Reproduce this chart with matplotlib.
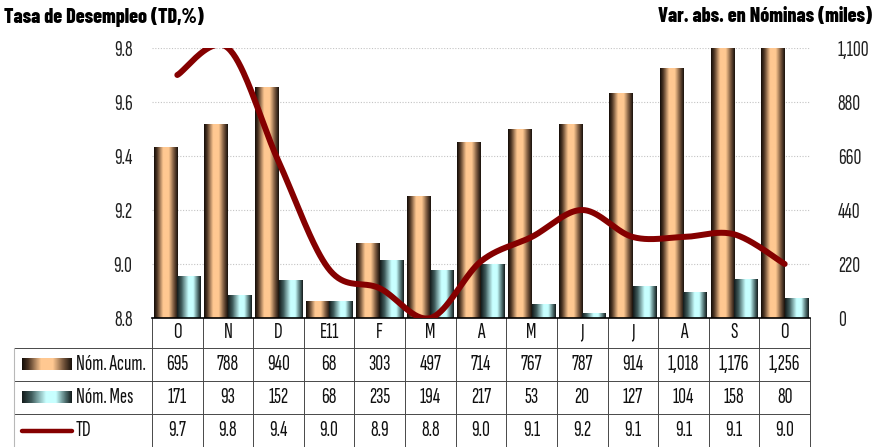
import numpy as np
import matplotlib
matplotlib.use('Agg')
import matplotlib.pyplot as plt
from matplotlib.colors import LinearSegmentedColormap

plt.rcParams['font.family'] = ['Sofia Sans Extra Condensed', 'DejaVu Sans']
title_font = ['Barlow Condensed', 'DejaVu Sans']

months = ['O', 'N', 'D', 'E11', 'F', 'M', 'A', 'M', 'J', 'J', 'A', 'S', 'O']
nom_acum = [695, 788, 940, 68, 303, 497, 714, 767, 787, 914, 1018, 1176, 1256]
nom_mes = [171, 93, 152, 68, 235, 194, 217, 53, 20, 127, 104, 158, 80]
td = [9.70, 9.80, 9.38, 8.98, 8.91, 8.80, 9.01, 9.10, 9.20, 9.10, 9.10, 9.11, 9.00]

left_ticks = [8.8, 9.0, 9.2, 9.4, 9.6, 9.8]
right_ticks = [0, 220, 440, 660, 880, 1100]

copper = LinearSegmentedColormap.from_list('copper_bar', [
    (0.0, '#140d08'), (0.12, '#4a3322'), (0.38, '#ffc891'), (0.62, '#ffc891'),
    (0.85, '#6e5038'), (1.0, '#1a120c')])
cyan = LinearSegmentedColormap.from_list('cyan_bar', [
    (0.0, '#141c1c'), (0.18, '#3e5a5a'), (0.48, '#c8ffff'), (0.68, '#c8ffff'),
    (0.88, '#4e6e6e'), (1.0, '#141c1c')])
line_color = '#850000'
grad = np.linspace(0, 1, 64)[np.newaxis, :]
fs = 15.5


def smooth(xs, ys, n=40):
    # bezier smoothing like the spreadsheet "smoothed line"
    xs, ys = np.asarray(xs, float), np.asarray(ys, float)
    px = np.concatenate([[xs[0]], xs, [xs[-1]]])
    py = np.concatenate([[ys[0]], ys, [ys[-1]]])
    out_x, out_y = [], []
    t = np.linspace(0, 1, n)
    for i in range(1, len(px) - 2):
        p0 = np.array([px[i], py[i]])
        p3 = np.array([px[i + 1], py[i + 1]])
        p1 = p0 + (np.array([px[i + 1], py[i + 1]]) - np.array([px[i - 1], py[i - 1]])) / 6
        p2 = p3 - (np.array([px[i + 2], py[i + 2]]) - np.array([px[i], py[i]])) / 6
        b = ((1 - t) ** 3)[:, None] * p0 + (3 * (1 - t) ** 2 * t)[:, None] * p1 \
            + (3 * (1 - t) * t ** 2)[:, None] * p2 + (t ** 3)[:, None] * p3
        out_x.extend(b[:, 0])
        out_y.extend(b[:, 1])
    return np.array(out_x), np.array(out_y)


fig = plt.figure(figsize=(8.73, 4.47), dpi=100)
ax = fig.add_axes([152 / 873, 129 / 447, 658 / 873, 270 / 447])
ax2 = ax.twinx()
ax.set_zorder(2)
ax2.set_zorder(1)
ax.patch.set_visible(False)

n = len(months)
x = np.arange(n)
w = 0.465

# bars (right axis)
for i in range(n):
    ax2.imshow(grad, cmap=copper, extent=(x[i] - w, x[i], 0, nom_acum[i]),
               aspect='auto', interpolation='bilinear', zorder=2)
    ax2.imshow(grad, cmap=cyan, extent=(x[i], x[i] + w, 0, nom_mes[i]),
               aspect='auto', interpolation='bilinear', zorder=2)
ax2.set_ylim(0, 1100)
ax2.set_xlim(-0.5, n - 0.5)
ax2.set_yticks(right_ticks)
ax2.set_yticklabels(['{:,}'.format(v) for v in right_ticks])
ax2.grid(axis='y', color='#c4c4c4', linestyle=(0, (1, 1.5)), linewidth=0.8)
ax2.set_axisbelow(True)
ax2.tick_params(axis='y', length=0, pad=20, labelsize=fs, labelcolor='#202020')
for s in ax2.spines.values():
    s.set_visible(False)

# TD line (left axis)
sx, sy = smooth(x, td)
ax.plot(sx, sy, color=line_color, linewidth=4.3, solid_capstyle='round', zorder=3)
ax.set_ylim(8.8, 9.8)
ax.set_xlim(-0.5, n - 0.5)
ax.set_yticks(left_ticks)
ax.set_yticklabels(['{:.1f}'.format(v) for v in left_ticks])
ax.tick_params(axis='y', length=0, pad=14, labelsize=fs, labelcolor='#202020')
ax.set_xticks([])
for k in ['top', 'left', 'right']:
    ax.spines[k].set_visible(False)
ax.spines['bottom'].set_color('black')
ax.spines['bottom'].set_linewidth(1.2)

# data table under the plot
row_y = [0, -30 / 270, -63 / 270, -96 / 270, -129 / 270]
lab_x = -138 / 658
tr = ax.transAxes
xt = ax.get_xaxis_transform()
lc = '#484848'
for k in range(n + 1):
    ax.plot([k / n, k / n], [row_y[0], row_y[-1]], color=lc, lw=0.7, transform=tr, clip_on=False)
for yy in row_y[1:]:
    ax.plot([lab_x, 1], [yy, yy], color=lc, lw=0.7, transform=tr, clip_on=False)
ax.plot([lab_x, lab_x], [row_y[1], row_y[-1]], color='#b8b8b8', lw=0.8, transform=tr, clip_on=False)

rows = [['{:,}'.format(v) for v in nom_acum],
        ['{:,}'.format(v) for v in nom_mes],
        ['{:.1f}'.format(v) for v in td]]
for i in range(n):
    ax.text(x[i], (row_y[0] + row_y[1]) / 2, months[i], transform=xt,
            ha='center', va='center', fontsize=fs, color='#101010')
    for r in range(3):
        ax.text(x[i], (row_y[r + 1] + row_y[r + 2]) / 2, rows[r][i], transform=xt,
                ha='center', va='center', fontsize=fs, color='#101010')

labels = ['Nóm. Acum.', 'Nóm. Mes', 'TD']
sw_x0, sw_x1 = -130 / 658, -80 / 658
for r, lab in enumerate(labels):
    yc = (row_y[r + 1] + row_y[r + 2]) / 2
    if r < 2:
        cm = copper if r == 0 else cyan
        ax.imshow(grad, cmap=cm, extent=(sw_x0, sw_x1, yc - 6 / 270, yc + 6 / 270),
                  transform=tr, aspect='auto', clip_on=False, interpolation='bilinear')
    else:
        ax.plot([sw_x0, sw_x1], [yc, yc], color=line_color, lw=3.2,
                solid_capstyle='round', transform=tr, clip_on=False)
    ax.text(sw_x1 + 4 / 658, yc, lab, transform=tr, ha='left', va='center',
            fontsize=fs, color='#101010')
ax.set_xlim(-0.5, n - 0.5)
ax.set_ylim(8.8, 9.8)

fig.text(4 / 873, 1 - 7 / 447, 'Tasa de Desempleo (TD,%)', ha='left', va='top',
         fontsize=14.3, fontweight='heavy', family=title_font)
fig.text(872 / 873, 1 - 7 / 447, 'Var. abs. en Nóminas (miles)', ha='right', va='top',
         fontsize=14.3, fontweight='heavy', family=title_font)

fig.savefig('out.png', dpi=100)
